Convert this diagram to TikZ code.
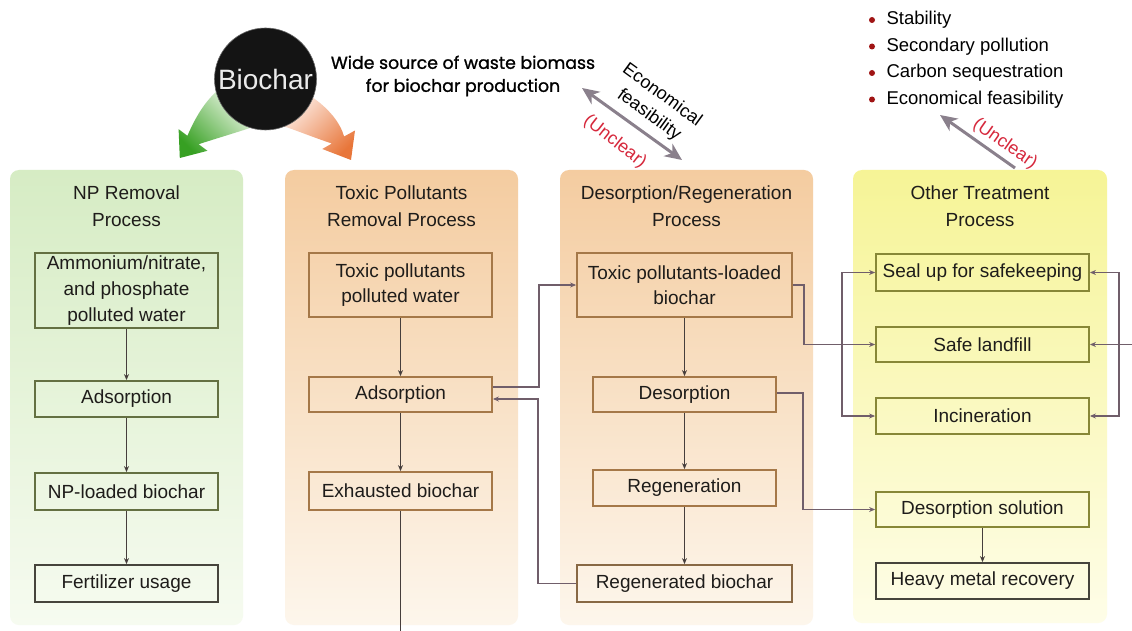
\documentclass[tikz,border=0pt]{standalone}
\usepackage{fontspec}
\setmainfont{Liberation Sans}
\newfontfamily\popfont[FakeBold=1.2]{Poppins}
\usetikzlibrary{arrows.meta,calc}
\definecolor{gtop}{RGB}{214,236,196}
\definecolor{gbot}{RGB}{246,251,240}
\definecolor{otop}{RGB}{244,204,160}
\definecolor{obot}{RGB}{253,246,236}
\definecolor{ytop}{RGB}{246,244,150}
\definecolor{ybot}{RGB}{254,253,232}
\definecolor{gline}{RGB}{100,112,66}
\definecolor{oline}{RGB}{165,120,72}
\definecolor{yline}{RGB}{135,135,55}
\definecolor{kline}{RGB}{70,68,60}
\definecolor{linkc}{RGB}{112,94,106}
\definecolor{flowc}{RGB}{70,62,60}
\definecolor{bigc}{RGB}{138,128,140}
\definecolor{redc}{RGB}{214,40,60}
\definecolor{bulc}{RGB}{160,20,20}
\definecolor{txtc}{RGB}{30,28,26}
\definecolor{garrL}{RGB}{235,246,228}
\definecolor{garrD}{RGB}{55,160,35}
\definecolor{oarrL}{RGB}{252,232,222}
\definecolor{oarrD}{RGB}{232,118,58}
\newcommand{\bxfont}{\fontsize{19}{25}\selectfont}
\begin{document}
\begin{tikzpicture}[x=1pt,y=-1pt,
  box/.style={draw, rectangle, line width=1.8pt, inner sep=0pt, align=center, text=txtc, font=\bxfont},
  gbox/.style={box, draw=gline},
  obox/.style={box, draw=oline},
  ybox/.style={box, draw=yline},
  title/.style={align=center, text=txtc, font=\fontsize{19}{27}\selectfont},
  flow/.style={draw=flowc, line width=1.4pt, -{Stealth[length=6pt,width=5pt]}},
  link/.style={draw=linkc, line width=1.7pt, -{Stealth[length=6pt,width=5pt]}},
  big/.style={draw=bigc, line width=3pt},
  redtxt/.style={text=redc, font=\fontsize{18}{20}\selectfont},
  rottxt/.style={text=black, font=\fontsize{18}{20}\selectfont},
  bul/.style={circle, fill=bulc, minimum size=6pt, inner sep=0pt},
  bultxt/.style={anchor=west, text=black, font=\fontsize{18.5}{22}\selectfont}
]
\useasboundingbox (0,0) rectangle (1132,631);
\fill[white] (0,0) rectangle (1132,631);

% panels
\shade[top color=gtop, bottom color=gbot, rounded corners=9pt] (10,170) rectangle (243,625);
\shade[top color=otop, bottom color=obot, rounded corners=9pt] (285,170) rectangle (518,625);
\shade[top color=otop, bottom color=obot, rounded corners=9pt] (560,170) rectangle (813,625);
\shade[top color=ytop, bottom color=ybot, rounded corners=9pt] (853,170) rectangle (1107,623);

% gradient arrows from biochar
\shade[shading=axis, top color=garrL, bottom color=garrD, shading angle=-45]
  (216,92) .. controls (205,102) and (196,116) .. (187.4,135.8) -- (178.6,129.2)
  -- (179.8,158) -- (207.4,150.8) -- (198.6,144.2)
  .. controls (218,138) and (238,132) .. (253,127) -- cycle;
\shade[shading=axis, top color=oarrL, bottom color=oarrD, shading angle=45]
  (312,97) .. controls (328,108) and (340,122) .. (344.1,136.5) -- (355,130.5)
  -- (351,160) -- (322.3,149) -- (331.9,143.5)
  .. controls (315,138) and (298,131) .. (283,126) -- cycle;

\node[circle, fill=black!92, draw=black!60, line width=0.6pt, minimum size=102pt, inner sep=0pt,
  text=white!92!black, font=\fontsize{28}{30}\selectfont] (biochar) at (265.5,79) {Biochar};

\node[align=center, text=black, font=\popfont\fontsize{17.3}{23}\selectfont] (wide) at (463,76)
  {Wide source of waste biomass\\for biochar production};

% economical feasibility double arrow
\coordinate (ea1) at (582,88);
\coordinate (ea2) at (682,160);
\draw[big, {Stealth[length=17pt,width=15pt,inset=5pt]}-{Stealth[length=17pt,width=15pt,inset=5pt]}] (ea1) -- (ea2);
\node[rottxt, rotate=-36] (econ) at (663,94) {Economical};
\node[rottxt, rotate=-36] (feas) at (649,115) {feasibility};
\node[redtxt, rotate=-38] (unc1) at (615,142) {(Unclear)};

% bullets
\node[bul] (d1) at (872,20) {};
\node[bul] (d2) at (872,46.5) {};
\node[bul] (d3) at (872,73) {};
\node[bul] (d4) at (872,99.5) {};
\node[bultxt] (t1) at (883,20) {Stability};
\node[bultxt] (t2) at (883,46.5) {Secondary pollution};
\node[bultxt] (t3) at (883,73) {Carbon sequestration};
\node[bultxt] (t4) at (883,99.5) {Economical feasibility};
\coordinate (ua1) at (1015,168);
\coordinate (ua2) at (940,115);
\draw[big, -{Stealth[length=17pt,width=15pt,inset=5pt]}] (ua1) -- (ua2);
\node[redtxt, rotate=-35] (unc2) at (1005,144) {(Unclear)};

% titles
\node[title] (ti1) at (126.5,206.5) {NP Removal\\Process};
\node[title] (ti2) at (401.5,206.5) {Toxic Pollutants\\Removal Process};
\node[title] (ti3) at (686.5,206.5) {Desorption/Regeneration\\Process};
\node[title] (ti4) at (980,206.5) {Other Treatment\\Process};

% panel 1
\node[gbox, minimum width=183pt, minimum height=75pt, font=\fontsize{19}{26}\selectfont] (a1) at (126.5,290.5) {Ammonium/nitrate,\\and phosphate\\polluted water};
\node[gbox, minimum width=183pt, minimum height=36pt] (a2) at (126.5,399) {Adsorption};
\node[gbox, minimum width=183pt, minimum height=37pt] (a3) at (126.5,491.5) {NP-loaded biochar};
\node[box, draw=kline, minimum width=183pt, minimum height=37pt] (a4) at (126.5,583.5) {Fertilizer usage};
\draw[flow] (a1) -- (a2);
\draw[flow] (a2) -- (a3);
\draw[flow] (a3) -- (a4);

% panel 2
\node[obox, minimum width=183pt, minimum height=64pt] (b1) at (400.5,285) {Toxic pollutants\\polluted water};
\node[obox, minimum width=183pt, minimum height=35pt] (b2) at (400.5,394.5) {Adsorption};
\node[obox, minimum width=183pt, minimum height=38pt] (b3) at (400.5,491) {Exhausted biochar};
\coordinate (bend) at (400.5,631);
\draw[flow] (b1) -- (b2);
\draw[flow] (b2) -- (b3);
\draw[flow, -] (b3) -- (bend);

% panel 3
\node[obox, minimum width=215pt, minimum height=64pt] (c1) at (684.5,285) {Toxic pollutants-loaded\\biochar};
\node[obox, minimum width=183pt, minimum height=35pt] (c2) at (684.5,394.5) {Desorption};
\node[obox, minimum width=183pt, minimum height=36pt] (c3) at (684.5,488) {Regeneration};
\node[box, draw=oline!70!kline, minimum width=215pt, minimum height=37pt] (c4) at (684.5,583.5) {Regenerated biochar};
\draw[flow] (c1) -- (c2);
\draw[flow] (c2) -- (c3);
\draw[flow] (c3) -- (c4);

% panel 4
\node[ybox, minimum width=213pt, minimum height=37pt] (e1) at (982.5,272.5) {Seal up for safekeeping};
\node[ybox, minimum width=213pt, minimum height=35pt] (e2) at (982.5,344.5) {Safe landfill};
\node[ybox, minimum width=213pt, minimum height=36pt] (e3) at (982.5,416) {Incineration};
\node[ybox, minimum width=213pt, minimum height=35pt] (e4) at (982.5,509.5) {Desorption solution};
\node[box, draw=kline, minimum width=213pt, minimum height=36pt] (e5) at (982.5,581) {Heavy metal recovery};
\draw[flow] (e4) -- (e5);

% links between panels
\draw[link] ([yshift=7.5pt]b2.east) -- ++(46,0) |- (c1.west);
\draw[link] (c4.west) -- ++(-38,0) |- ([yshift=-4.5pt]b2.east);
\draw[link] (c1.east) -- ++(11,0) |- (e2.west);
\draw[link] ([yshift=1.5pt]c2.east) -- ++(26,0) |- (e4.west);
\coordinate (lb) at (842,344.5);
\draw[link] (lb) |- (e1.west);
\draw[link] (lb) |- (e3.west);
\coordinate (rin) at (1132,344.5);
\coordinate (rb) at (1119,344.5);
\draw[link] (rin) -- (e2.east);
\draw[link] (rb) |- (e1.east);
\draw[link] (rb) |- (e3.east);
\end{tikzpicture}
\end{document}
